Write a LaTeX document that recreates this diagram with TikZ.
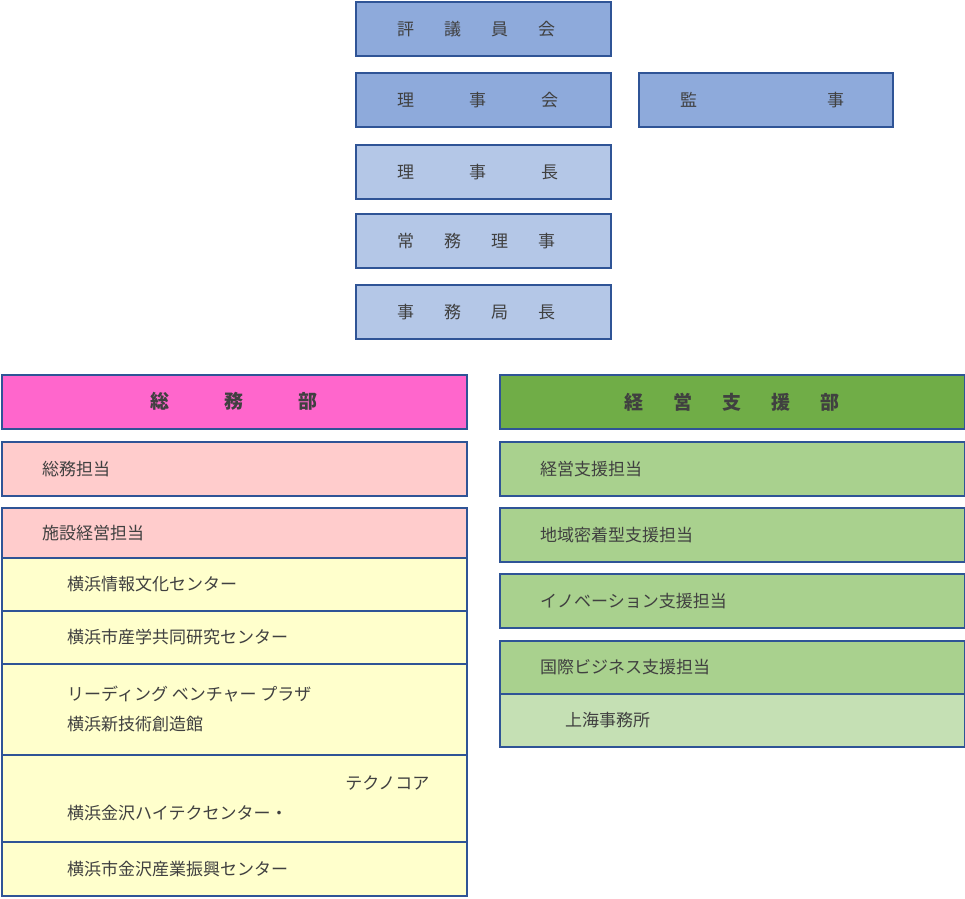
\documentclass[tikz,border=0pt]{standalone}
\usepackage{fontspec}
\setmainfont{Noto Sans CJK JP}
\definecolor{edge}{HTML}{2F5496}
\definecolor{ink}{HTML}{404040}
\definecolor{blueA}{HTML}{8EAADB}
\definecolor{blueB}{HTML}{B4C7E7}
\definecolor{pinkA}{HTML}{FF66CC}
\definecolor{pinkB}{HTML}{FFCCCC}
\definecolor{yelB}{HTML}{FFFFCC}
\definecolor{grnA}{HTML}{70AD47}
\definecolor{grnB}{HTML}{A9D18E}
\definecolor{grnC}{HTML}{C5E0B4}
\tikzset{
  orgbox/.style={draw=edge, line width=1.5pt, anchor=north west, inner sep=0pt},
  lbl/.style={anchor=west, inner sep=0pt, text=ink, font=\fontsize{17}{20}\selectfont},
  hdr/.style={anchor=center, inner sep=0pt, text=ink, font=\fontsize{19}{22}\selectfont\bfseries}
}
% box: name, x, y, width, height, fill
\newcommand\orgrect[6]{\node[orgbox, fill=#6, minimum width=#4pt, minimum height=#5pt] (#1) at (#2,#3) {};}
\begin{document}
\begin{tikzpicture}[x=1pt, y=-1pt]
  \useasboundingbox (0,0) rectangle (965,898);

  % upper chain
  \orgrect{council}{355}{1}{255}{54}{blueA}
  \orgrect{board}{355}{72}{255}{54}{blueA}
  \orgrect{auditor}{638}{72}{254}{54}{blueA}
  \orgrect{chair}{355}{144}{255}{54}{blueB}
  \orgrect{director}{355}{213}{255}{54}{blueB}
  \orgrect{secgen}{355}{284}{255}{54}{blueB}
  \node[lbl] at ([xshift=42pt]council.west) {評\hspace{30pt}議\hspace{30pt}員\hspace{30pt}会};
  \node[lbl] at ([xshift=42pt]board.west) {理\hspace{55pt}事\hspace{55pt}会};
  \node[lbl] at ([xshift=42pt]auditor.west) {監\hspace{130pt}事};
  \node[lbl] at ([xshift=42pt]chair.west) {理\hspace{55pt}事\hspace{55pt}長};
  \node[lbl] at ([xshift=42pt]director.west) {常\hspace{30pt}務\hspace{30pt}理\hspace{30pt}事};
  \node[lbl] at ([xshift=42pt]secgen.west) {事\hspace{30pt}務\hspace{30pt}局\hspace{30pt}長};

  % 総務部
  \orgrect{general}{1}{374}{465}{54}{pinkA}
  \node[hdr] at (general.center) {総\hspace{55pt}務\hspace{55pt}部};
  \orgrect{genaff}{1}{441}{465}{54}{pinkB}
  \node[lbl] at ([xshift=41pt]genaff.west) {総務担当};
  \orgrect{facility}{1}{507}{465}{50}{pinkB}
  \node[lbl] at ([xshift=41pt]facility.west) {施設経営担当};
  \orgrect{fcA}{1}{557}{465}{53}{yelB}
  \node[lbl] at ([xshift=66pt]fcA.west) {横浜情報文化センター};
  \orgrect{fcB}{1}{610}{465}{53}{yelB}
  \node[lbl] at ([xshift=66pt]fcB.west) {横浜市産学共同研究センター};
  \orgrect{fcC}{1}{663}{465}{91}{yelB}
  \node[lbl] at ([xshift=66pt,yshift=-15pt]fcC.west) {横浜新技術創造館};
  \node[lbl] at ([xshift=66pt,yshift=15pt]fcC.west) {リーディング ベンチャー プラザ};
  \orgrect{fcD}{1}{754}{465}{87}{yelB}
  \node[lbl] at ([xshift=66pt,yshift=-15pt]fcD.west) {横浜金沢ハイテクセンター・};
  \node[lbl, anchor=east] at ([xshift=-38pt,yshift=15pt]fcD.east) {テクノコア};
  \orgrect{fcE}{1}{841}{465}{54}{yelB}
  \node[lbl] at ([xshift=66pt]fcE.west) {横浜市金沢産業振興センター};

  % 経営支援部
  \orgrect{support}{499}{374}{465}{54}{grnA}
  \node[hdr] at (support.center) {経\hspace{30pt}営\hspace{30pt}支\hspace{30pt}援\hspace{30pt}部};
  \orgrect{spA}{499}{441}{465}{54}{grnB}
  \node[lbl] at ([xshift=41pt]spA.west) {経営支援担当};
  \orgrect{spB}{499}{507}{465}{54}{grnB}
  \node[lbl] at ([xshift=41pt]spB.west) {地域密着型支援担当};
  \orgrect{spC}{499}{573}{465}{54}{grnB}
  \node[lbl] at ([xshift=41pt]spC.west) {イノベーション支援担当};
  \orgrect{spD}{499}{640}{465}{53}{grnB}
  \node[lbl] at ([xshift=41pt]spD.west) {国際ビジネス支援担当};
  \orgrect{shanghai}{499}{693}{465}{53}{grnC}
  \node[lbl] at ([xshift=66pt]shanghai.west) {上海事務所};
\end{tikzpicture}
\end{document}
